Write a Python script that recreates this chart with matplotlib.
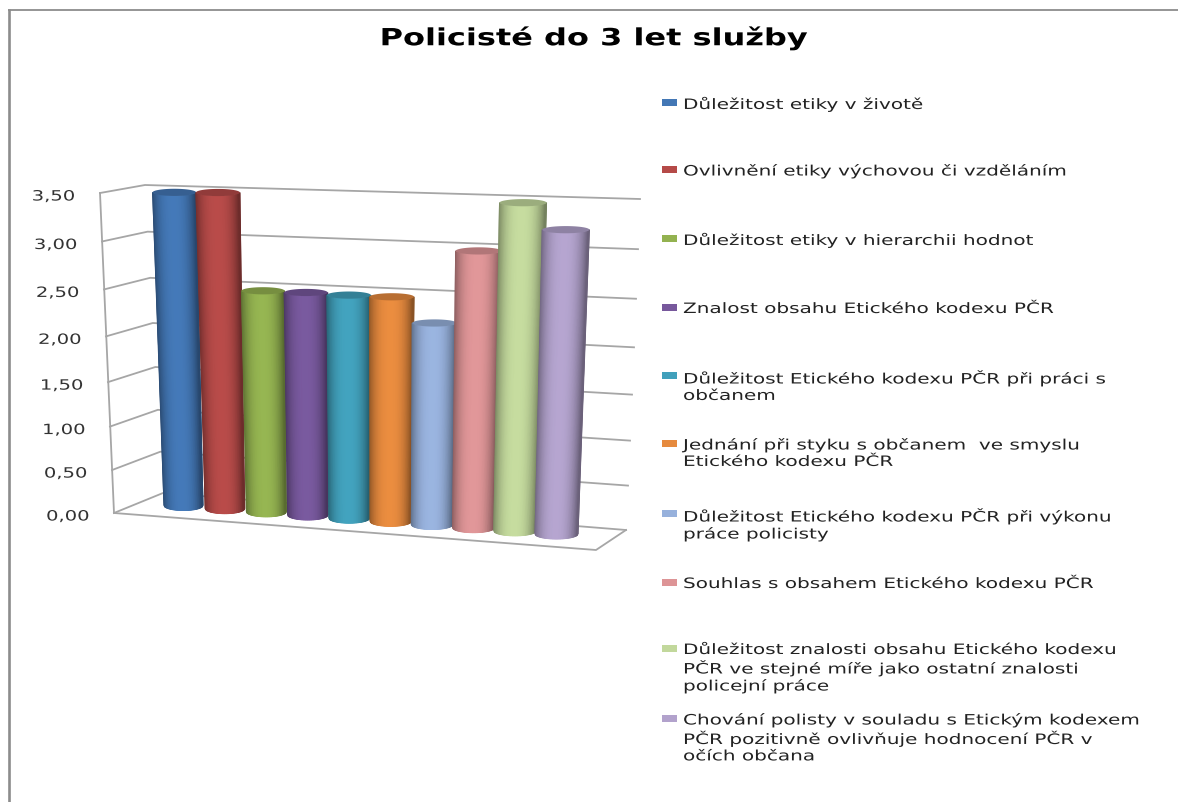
import matplotlib
matplotlib.use('Agg')
import matplotlib.pyplot as plt
import numpy as np
from matplotlib.colors import LinearSegmentedColormap, to_rgb
from matplotlib.patheffects import AbstractPathEffect
from matplotlib.transforms import Affine2D

plt.rcParams['font.family'] = ['DejaVu Sans']

title = "Policisté do 3 let služby"
categories = [
    "Důležitost etiky v životě",
    "Ovlivnění etiky výchovou či vzděláním",
    "Důležitost etiky v hierarchii hodnot",
    "Znalost obsahu Etického kodexu PČR",
    "Důležitost Etického kodexu PČR při práci s\nobčanem",
    "Jednání při styku s občanem  ve smyslu\nEtického kodexu PČR",
    "Důležitost Etického kodexu PČR při výkonu\npráce policisty",
    "Souhlas s obsahem Etického kodexu PČR",
    "Důležitost znalosti obsahu Etického kodexu\nPČR ve stejné míře jako ostatní znalosti\npolicejní práce",
    "Chování polisty v souladu s Etickým kodexem\nPČR pozitivně ovlivňuje hodnocení PČR v\nočích občana",
]
values = [3.46, 3.47, 2.41, 2.41, 2.40, 2.40, 2.14, 2.92, 3.44, 3.17]
colors = ['#4377b5', '#b54a48', '#93b250', '#77589c', '#41a0bb', '#e68a3e',
          '#97b1dc', '#dd9496', '#c2d89c', '#b2a2cc']
ticks = [0, 0.5, 1, 1.5, 2, 2.5, 3, 3.5]
tick_labels = ['0,00', '0,50', '1,00', '1,50', '2,00', '2,50', '3,00', '3,50']

legend_y = [104, 171, 240, 309, 377, 445, 515, 584, 650, 720]


class Stretch(AbstractPathEffect):
    # the source picture was pulled wider, so widen the glyphs around x0
    def __init__(self, x0, sx):
        super().__init__()
        self.x0 = x0
        self.sx = sx

    def draw_path(self, renderer, gc, tpath, affine, rgbFace=None):
        wide = affine + Affine2D().translate(-self.x0, 0).scale(self.sx, 1).translate(self.x0, 0)
        renderer.draw_path(gc, tpath, wide, rgbFace)


def lerp(a, b, t):
    return a + (b - a) * t


# fake 3d box: corners in pixels, value 0 and value 3.5
front_left = ((114, 514), (100, 194))
back_left = ((163, 494), (145, 186))
back_right = ((626, 531), (640, 200))
front_right_floor = (596, 551)


def wall_y(corner, v):
    # back/front edges get slightly stretched towards the bottom
    f = v / 3.5
    return lerp(corner[0][1], corner[1][1], f) + (corner[0][1] - corner[1][1]) * 0.02 * np.sin(np.pi * f)


def wall_x(corner, v):
    return lerp(corner[0][0], corner[1][0], v / 3.5)


fig = plt.figure(figsize=(11.78, 8.03), dpi=100)
ax = fig.add_axes([0, 0, 1, 1])
ax.set_xlim(0, 1178)
ax.set_ylim(803, 0)
ax.axis('off')

# frame of the pasted picture
ax.plot([9.2, 9.2], [10, 803], color='#8c8c8c', lw=1.9, solid_capstyle='butt')
ax.plot([8, 1178], [10.8, 10.8], color='#8c8c8c', lw=1.3, solid_capstyle='butt')

grid = '#a6a6a6'
for v in ticks:
    fx, fy = wall_x(front_left, v), wall_y(front_left, v)
    bx, by = wall_x(back_left, v), wall_y(back_left, v)
    rx, ry = wall_x(back_right, v), wall_y(back_right, v)
    ax.plot([fx, bx, rx], [fy, by, ry], color=grid, lw=1.3, zorder=1)

ax.plot([wall_x(front_left, 0), wall_x(front_left, 3.5)],
        [wall_y(front_left, 0), wall_y(front_left, 3.5)], color=grid, lw=1.3, zorder=1)
ax.plot([front_left[0][0], front_right_floor[0], back_right[0][0]],
        [front_left[0][1], front_right_floor[1], back_right[0][1]], color=grid, lw=1.3, zorder=1)

for v, lab in zip(ticks, tick_labels):
    # labels follow the tilted left edge of the wall
    lx = wall_x(front_left, v) - 25
    ax.text(lx, wall_y(front_left, v) + 3.5, lab, ha='right', va='center', fontsize=10.2,
            color='#333333', path_effects=[Stretch(lx, 1.38)])

# cylinders, left to right
n = len(values)
t = np.linspace(-1, 1, 61)
shade = 0.6 + 0.42 * (1 - np.abs(t + 0.05) ** 2.6)
for i, (v, c) in enumerate(zip(values, colors)):
    f = i / (n - 1)
    xb = lerp(183.5, 556.5, f)
    yb = lerp(506.5, 535, f)
    wb = lerp(19.5, 21.5, f)
    h = v * lerp(90.5, 96, f)
    xt = xb + lerp(-9, 10, f) * v / 3.4
    yt = yb - h
    wt = wb + 2.2 * v / 3.4
    eb, et = 5.0, 3.6
    rgb = np.array(to_rgb(c))
    cmap = LinearSegmentedColormap.from_list('cyl', [np.clip(rgb * s, 0, 1) for s in (0.6, 1.02)])
    bottom = np.sqrt(np.clip(1 - t * t, 0, 1))
    X = np.array([xb + wb * t, xt + wt * t])
    Y = np.array([yb + eb * bottom, yt + et * bottom])
    ax.pcolormesh(X, Y, np.array([shade, shade]), shading='gouraud', cmap=cmap,
                  vmin=0.6, vmax=1.02, zorder=3 + i)
    # top cap
    th = np.linspace(0, 2 * np.pi, 60)
    ax.fill(xt + wt * np.cos(th), yt + et * np.sin(th), color=rgb * 0.8, lw=0, zorder=3 + i)

# legend
for lab, y, c in zip(categories, legend_y, colors):
    ax.fill([662, 677, 677, 662], [y - 4, y - 4, y + 3, y + 3], color=c, lw=0)
    ax.text(683, y - 6, lab, ha='left', va='top', fontsize=10.3, linespacing=1.22,
            color='#222222', path_effects=[Stretch(683, 1.4)])

ax.text(594, 38.5, title, ha='center', va='center', fontsize=17, fontweight='bold', color='black',
        path_effects=[Stretch(594, 1.355)])

fig.savefig('out.png', dpi=100)
